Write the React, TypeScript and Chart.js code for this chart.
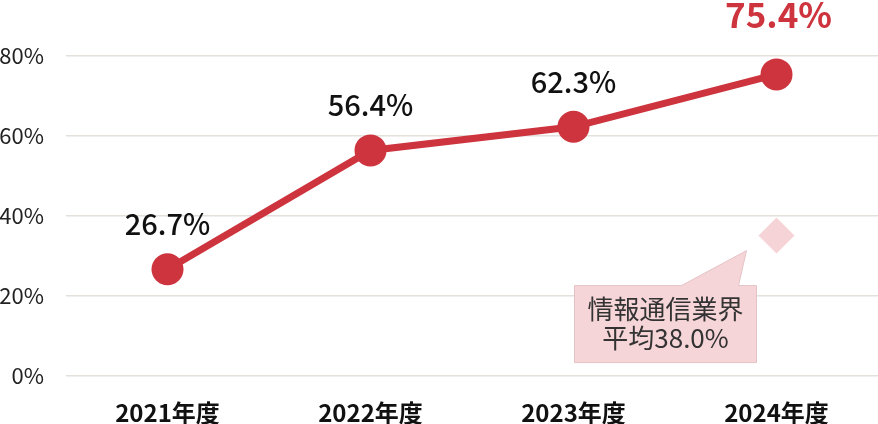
import React, { useEffect, useRef } from "react";
import { Chart, registerables } from "chart.js";

Chart.register(...registerables);

const categories = ["2021年度", "2022年度", "2023年度", "2024年度"];
const rateValues = [26.7, 56.4, 62.3, 75.4];
const industryMarker = [null, null, null, 35.1];
const industryAvgText = ["情報通信業界", "平均38.0%"];
const yTicks = [0, 20, 40, 60, 80];

const FONT = '"Noto Sans CJK JP", "Noto Sans", sans-serif';
const RED = "#cd343e";

const labelsPlugin = {
  id: "valueLabels",
  afterDatasetsDraw(chart: any) {
    const ctx = chart.ctx;
    const meta = chart.getDatasetMeta(0);
    ctx.save();
    ctx.textAlign = "center";
    ctx.textBaseline = "middle";
    meta.data.forEach((pt: any, i: number) => {
      const last = i === rateValues.length - 1;
      if (last) {
        ctx.font = `bold 35px ${FONT}`;
        ctx.fillStyle = RED;
        ctx.fillText(rateValues[i].toFixed(1) + "%", pt.x + 2, pt.y - 60);
      } else {
        ctx.font = `500 29px ${FONT}`;
        ctx.fillStyle = "#111";
        ctx.fillText(rateValues[i].toFixed(1) + "%", pt.x, pt.y - 45);
      }
    });
    // callout
    const dm = chart.getDatasetMeta(1);
    const p = dm.data[3];
    if (p) {
      const px = p.x, py = p.y;
      const l = px - 202, r = px - 20, t = py + 50, b = py + 127;
      ctx.beginPath();
      ctx.moveTo(l, t);
      ctx.lineTo(px - 95, t);
      ctx.lineTo(px - 30, py + 15);
      ctx.lineTo(px - 38, t);
      ctx.lineTo(r, t);
      ctx.lineTo(r, b);
      ctx.lineTo(l, b);
      ctx.closePath();
      ctx.fillStyle = "#f6d5d8";
      ctx.fill();
      ctx.strokeStyle = "#e3c3c6";
      ctx.lineWidth = 1;
      ctx.stroke();
      ctx.fillStyle = "#333";
      ctx.font = `400 26px ${FONT}`;
      const cx = (l + r) / 2;
      ctx.fillText(industryAvgText[0], cx, t + 24);
      ctx.fillText(industryAvgText[1], cx, t + 53);
    }
    ctx.restore();
  },
};

export default function App() {
  const ref = useRef<HTMLCanvasElement>(null);
  useEffect(() => {
    if (!ref.current) return;
    const chart = new Chart(ref.current, {
      type: "line",
      data: {
        labels: categories,
        datasets: [
          {
            data: rateValues,
            borderColor: RED,
            backgroundColor: RED,
            borderWidth: 7,
            pointRadius: 16,
            pointHoverRadius: 16,
            pointBackgroundColor: RED,
            pointBorderColor: RED,
            pointBorderWidth: 0,
            order: 1,
          },
          {
            data: industryMarker,
            showLine: false,
            pointStyle: "rectRot",
            pointRadius: 18.5,
            pointBackgroundColor: "#f6d3d6",
            pointBorderColor: "#ffffff",
            pointBorderWidth: 1,
            order: 2,
          },
        ],
      },
      options: {
        animation: false,
        responsive: false,
        maintainAspectRatio: false,
        layout: { autoPadding: false, padding: { top: 56, left: 0, right: 0, bottom: 0 } },
        plugins: { legend: { display: false }, tooltip: { enabled: false } },
        scales: {
          x: {
            offset: true,
            grid: { display: false, drawTicks: false },
            border: { display: false },
            ticks: {
              padding: 22,
              color: "#111",
              font: { family: FONT, size: 24, weight: "bold" },
            },
            afterFit(scale: any) {
              scale.height = 48;
              scale.paddingLeft = 0;
              scale.paddingRight = 0;
            },
          },
          y: {
            min: 0,
            max: 80,
            afterBuildTicks(scale: any) {
              scale.ticks = yTicks.map((v) => ({ value: v }));
            },
            grid: { color: "#e4e0dc", lineWidth: 1.5, drawTicks: false },
            border: { display: false },
            ticks: {
              padding: 22,
              color: "#222",
              font: { family: FONT, size: 22 },
              callback: (v: any) => v + "%",
            },
            afterFit(scale: any) {
              scale.width = 66;
            },
          },
        },
      },
      plugins: [labelsPlugin],
    } as any);
    return () => chart.destroy();
  }, []);
  return (
    <div style={{ position: "absolute", left: 0, top: 0, width: 878, height: 424, background: "#fff" }}>
      <canvas ref={ref} width={878} height={424} style={{ width: 878, height: 424 }} />
    </div>
  );
}
